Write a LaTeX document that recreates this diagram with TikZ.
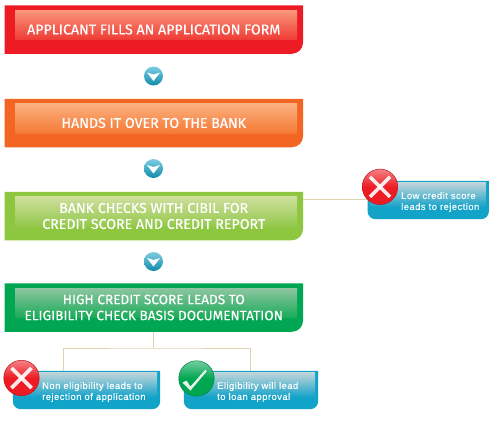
\documentclass[tikz,border=0pt]{standalone}
\usepackage{fontspec}
\setmainfont[FakeBold=0.4]{Fira Sans}
\newfontfamily\notefont[LetterSpace=5,FakeBold=0.2]{Liberation Sans}
\definecolor{redbase}{HTML}{ED1C24}
\definecolor{redtop}{HTML}{F9967A}
\definecolor{redlow}{HTML}{EF3B36}
\definecolor{orangebase}{HTML}{F26522}
\definecolor{orangetop}{HTML}{FBB07F}
\definecolor{orangelow}{HTML}{F47A35}
\definecolor{limebase}{HTML}{8DC63F}
\definecolor{limetop}{HTML}{CFDE9C}
\definecolor{limelow}{HTML}{93C94C}
\definecolor{leafbase}{HTML}{00A651}
\definecolor{leaftop}{HTML}{8CC5A0}
\definecolor{leaflow}{HTML}{1AAB58}
\definecolor{notebase}{HTML}{12A3C9}
\definecolor{notetop}{HTML}{C0D4DA}
\definecolor{linkcol}{HTML}{DFD2AE}
\tikzset{
  flowbox/.style={minimum width=298.5pt, minimum height=48.5pt, inner sep=0pt, align=center,
    text=white, font=\fontsize{14.2}{16}\selectfont},
  notebox/.style={minimum height=38pt, inner sep=0pt},
  notetext/.style={anchor=west, align=left, text=white, inner sep=0pt,
    font=\notefont\fontsize{9.4}{11}\selectfont},
  linkline/.style={draw=linkcol, line width=1pt},
  ballbase/.style={circle, minimum size=35.5pt, inner sep=0pt, draw=#1!80!black, line width=0.5pt,
    top color=#1!55!white, bottom color=#1, middle color=#1},
  hopball/.style={circle, minimum size=19pt, inner sep=0pt, top color=#1!55!white, bottom color=#1!85!black}
}
\begin{document}
\begin{tikzpicture}[x=1pt,y=-1pt]
  \useasboundingbox (0,0) rectangle (497,423);
  % Main steps down the left side
  \foreach \nm/\yc/\base/\fs/\lab in {
    apply/29.5/red/14.2/{APPLICANT FILLS AN APPLICATION FORM},
    handover/123/orange/14.2/{HANDS IT OVER TO THE BANK},
    cibil/216/lime/14.2/{BANK CHECKS WITH CIBIL FOR\\CREDIT SCORE AND CREDIT REPORT},
    verify/307.5/leaf/13.6/{HIGH CREDIT SCORE LEADS TO\\ELIGIBILITY CHECK BASIS DOCUMENTATION}} {
    \path[fill=\base base] (4.5,\yc-24.25) -- (303,\yc-24.25)
      [rounded corners=11pt] -- (303,\yc+24.25) [sharp corners] -- (4.5,\yc+24.25) -- cycle;
    \shade[top color=\base top, bottom color=\base low] (15,\yc-19.25) rectangle (297,\yc+10.25);
    \node[flowbox, font=\fontsize{\fs}{16}\selectfont] (\nm) at (153.75,\yc) {\lab};
  }
  % Small blue balls between the steps
  \foreach \nm/\yc in {hopa/76, hopb/168.5, hopc/261.5} {
    \node[hopball=notebase] (\nm) at (153.5,\yc) {};
    \fill[white] ([shift={(-6.5,-3.5)}]\nm.center) -- ([shift={(0,-1.5)}]\nm.center)
      -- ([shift={(6.5,-3.5)}]\nm.center) -- ([shift={(0,5)}]\nm.center) -- cycle;
  }
  % Notes
  \foreach \nm/\xc/\bw/\xtxt/\yc/\lab in {
    lowscore/428.25/121/401/200/{Low credit score\\leads to rejection},
    refuse/86.5/147/42/390/{Non eligibility leads to\\rejection of application},
    approve/251/134/217/390/{Eligibility will lead\\to loan approval}} {
    \node[notebox, minimum width=\bw pt] (\nm) at (\xc,\yc) {};
    \fill[notebase, rounded corners=8pt] (\nm.north west) [sharp corners] -- (\nm.north east)
      [rounded corners=8pt] -- (\nm.south east) -- (\nm.south west) [sharp corners] -- cycle;
    \shade[top color=notetop, bottom color=notebase]
      ([shift={(3,2)}]\nm.north west) rectangle ([shift={(-3,-12)}]\nm.south east);
    \node[notetext] (\nm txt) at (\xtxt,\yc+2) {\lab};
  }
  % Connectors
  \coordinate (lowlink) at (368,199);
  \coordinate (fork) at (153.75,348);
  \coordinate (dropa) at (63,371);
  \coordinate (dropb) at (250,371);
  \draw[linkline] (cibil.east |- lowlink) -- (lowlink);
  \draw[linkline] (verify.south) -- (fork);
  \draw[linkline] (dropa) |- (fork) -| (dropb);
  % Cross and tick balls
  \foreach \nm/\xc/\yc in {lowball/380/186.8, refuseball/21.5/378} {
    \node[ballbase=redbase] (\nm) at (\xc,\yc) {};
    \draw[white, line width=3.6pt, opacity=0.9] ([shift={(-10,-10)}]\nm.center) -- ([shift={(10,10)}]\nm.center);
    \draw[white, line width=3.6pt, opacity=0.9] ([shift={(10,-10)}]\nm.center) -- ([shift={(-10,10)}]\nm.center);
  }
  \node[ballbase=leafbase] (okball) at (196.5,378.5) {};
  \fill[white, opacity=0.9] ([shift={(-14,4)}]okball.center) -- ([shift={(-10,2)}]okball.center)
    -- ([shift={(-6,8)}]okball.center) -- ([shift={(9,-9)}]okball.center)
    -- ([shift={(10,-7)}]okball.center) -- ([shift={(-6,12)}]okball.center) -- cycle;
\end{tikzpicture}
\end{document}
